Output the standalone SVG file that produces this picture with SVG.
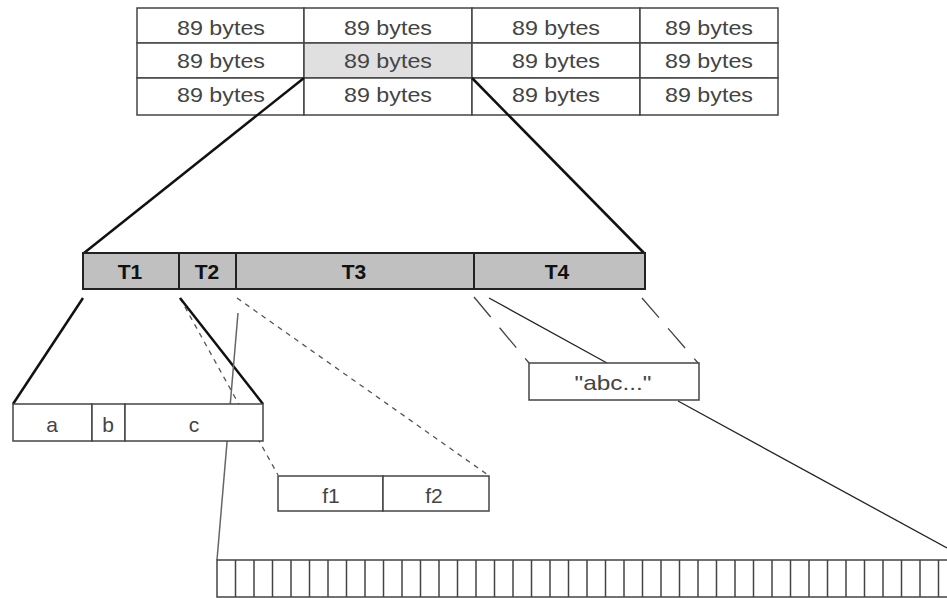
<svg xmlns="http://www.w3.org/2000/svg" width="947" height="598" viewBox="0 0 947 598">
<style>
.cell{fill:#fff;stroke:#444;stroke-width:1.5}
.hl{fill:#e0e0e0;stroke:#444;stroke-width:1.5}
.tbar{fill:#c0c0c0;stroke:#222;stroke-width:2}
.box{fill:#fff;stroke:#444;stroke-width:1.5}
.lbl{font-family:"Liberation Sans",Arial,sans-serif;font-size:21px;fill:#444;text-anchor:middle}
.tl{font-family:"Liberation Sans",Arial,sans-serif;font-size:21px;font-weight:bold;fill:#111;text-anchor:middle}
.thick{stroke:#111;stroke-width:2.5;fill:none}
.solid{stroke:#222;stroke-width:1.3;fill:none}
.dash{stroke:#555;stroke-width:1.3;stroke-dasharray:5,5;fill:none}
.ldash{stroke:#444;stroke-width:1.3;stroke-dasharray:26,14;fill:none}
.grey{stroke:#666;stroke-width:1.5;fill:none}
</style>
<rect width="947" height="598" fill="#fff"/>
<g id="table">
<rect class="cell" x="137" y="8" width="167" height="35"/>
<rect class="cell" x="304" y="8" width="168" height="35"/>
<rect class="cell" x="472" y="8" width="168" height="35"/>
<rect class="cell" x="640" y="8" width="138" height="35"/>
<rect class="cell" x="137" y="43" width="167" height="35"/>
<rect class="hl" x="304" y="43" width="168" height="35"/>
<rect class="cell" x="472" y="43" width="168" height="35"/>
<rect class="cell" x="640" y="43" width="138" height="35"/>
<rect class="cell" x="137" y="78" width="167" height="37"/>
<rect class="cell" x="304" y="78" width="168" height="37"/>
<rect class="cell" x="472" y="78" width="168" height="37"/>
<rect class="cell" x="640" y="78" width="138" height="37"/>
<text class="lbl" x="221" y="35" textLength="88" lengthAdjust="spacingAndGlyphs">89 bytes</text>
<text class="lbl" x="388" y="35" textLength="88" lengthAdjust="spacingAndGlyphs">89 bytes</text>
<text class="lbl" x="556" y="35" textLength="88" lengthAdjust="spacingAndGlyphs">89 bytes</text>
<text class="lbl" x="709" y="35" textLength="88" lengthAdjust="spacingAndGlyphs">89 bytes</text>
<text class="lbl" x="221" y="68" textLength="88" lengthAdjust="spacingAndGlyphs">89 bytes</text>
<text class="lbl" x="388" y="68" textLength="88" lengthAdjust="spacingAndGlyphs">89 bytes</text>
<text class="lbl" x="556" y="68" textLength="88" lengthAdjust="spacingAndGlyphs">89 bytes</text>
<text class="lbl" x="709" y="68" textLength="88" lengthAdjust="spacingAndGlyphs">89 bytes</text>
<text class="lbl" x="221" y="102" textLength="88" lengthAdjust="spacingAndGlyphs">89 bytes</text>
<text class="lbl" x="388" y="102" textLength="88" lengthAdjust="spacingAndGlyphs">89 bytes</text>
<text class="lbl" x="556" y="102" textLength="88" lengthAdjust="spacingAndGlyphs">89 bytes</text>
<text class="lbl" x="709" y="102" textLength="88" lengthAdjust="spacingAndGlyphs">89 bytes</text>
</g>
<g id="connectors">
<line class="thick" x1="304" y1="78" x2="84" y2="253"/>
<line class="thick" x1="472" y1="78" x2="644" y2="253"/>
<line class="thick" x1="83" y1="298" x2="13" y2="404"/>
<line class="dash" x1="180" y1="298" x2="278" y2="475"/>
<line class="thick" x1="180" y1="298" x2="263" y2="404"/>
<line class="dash" x1="237" y1="298" x2="488" y2="475"/>
<line class="grey" x1="238" y1="313" x2="217" y2="560"/>
<line class="ldash" x1="474" y1="297" x2="529" y2="363"/>
<line class="solid" x1="489" y1="298" x2="607" y2="363"/>
<line class="ldash" x1="642" y1="298" x2="698" y2="363"/>
<line class="solid" x1="678" y1="401" x2="947" y2="548"/>
</g>
<g id="tbar">
<rect class="tbar" x="83" y="253" width="96" height="36"/>
<rect class="tbar" x="179" y="253" width="57" height="36"/>
<rect class="tbar" x="236" y="253" width="238" height="36"/>
<rect class="tbar" x="474" y="253" width="171" height="36"/>
<text class="tl" x="130" y="279">T1</text>
<text class="tl" x="207" y="279">T2</text>
<text class="tl" x="354" y="279">T3</text>
<text class="tl" x="557" y="279">T4</text>
</g>
<g id="abc-box">
<rect class="box" x="13" y="404" width="79" height="37"/>
<rect class="box" x="92" y="404" width="33" height="37"/>
<rect class="box" x="125" y="404" width="138" height="37"/>
<text class="lbl" x="52" y="432">a</text>
<text class="lbl" x="108" y="432">b</text>
<text class="lbl" x="194" y="432">c</text>
</g>
<g id="f-box">
<rect class="box" x="278" y="476" width="105" height="35"/>
<rect class="box" x="383" y="476" width="106" height="35"/>
<text class="lbl" x="331" y="503">f1</text>
<text class="lbl" x="434" y="503">f2</text>
</g>
<g id="string-box">
<rect class="box" x="529" y="363" width="170" height="37"/>
<text class="lbl" x="613" y="390" textLength="77" lengthAdjust="spacingAndGlyphs">"abc..."</text>
</g>
<g id="byte-array">
<rect class="box" x="217" y="560" width="740" height="37"/>
<path stroke="#444" stroke-width="1.5" fill="none" d="M235.5 560V597M254 560V597M272.5 560V597M291 560V597M309.5 560V597M328 560V597M346.5 560V597M365 560V597M383.5 560V597M402 560V597M420.5 560V597M439 560V597M457.5 560V597M476 560V597M494.5 560V597M513 560V597M531.5 560V597M550 560V597M568.5 560V597M587 560V597M605.5 560V597M624 560V597M642.5 560V597M661 560V597M679.5 560V597M698 560V597M716.5 560V597M735 560V597M753.5 560V597M772 560V597M790.5 560V597M809 560V597M827.5 560V597M846 560V597M864.5 560V597M883 560V597M901.5 560V597M920 560V597M938.5 560V597"/>
</g>
</svg>
